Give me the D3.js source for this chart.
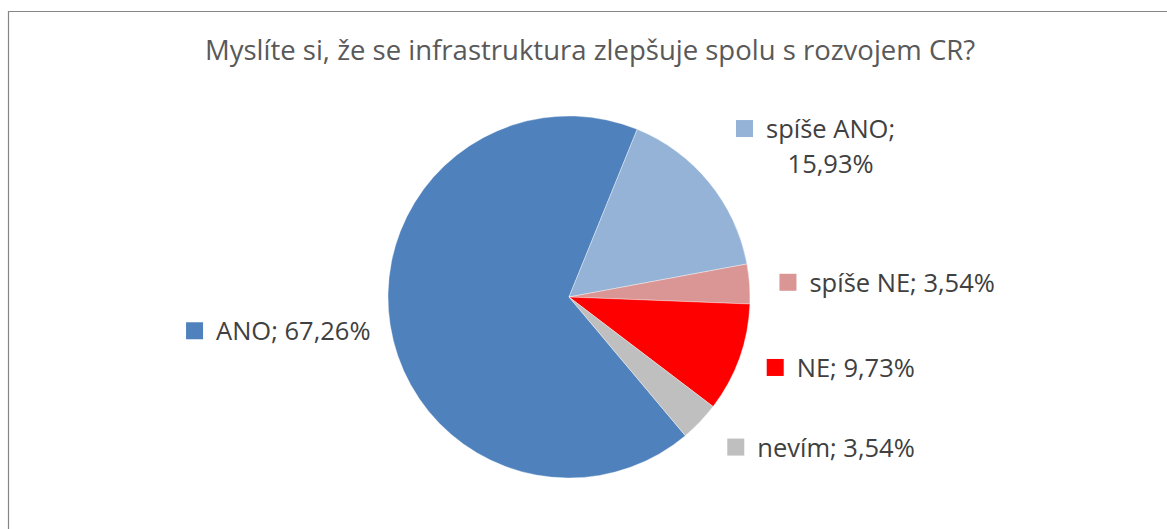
<!DOCTYPE html>
<html>
<head>
<meta charset="utf-8">
<script src="https://cdn.jsdelivr.net/npm/d3@7"></script>
<style>
  html, body { margin: 0; padding: 0; background: #fff; }
  svg { display: block; }
</style>
</head>
<body>
<script>
const categories = ["ANO", "spíše ANO", "spíše NE", "NE", "nevím"];
const values = [67.26, 15.93, 3.54, 9.73, 3.54];
const colors = ["#4F81BD", "#95B3D7", "#D99694", "#FF0000", "#BFBFBF"];
const labelTexts = ["ANO; 67,26%", "spíše ANO;|15,93%", "spíše NE; 3,54%", "NE; 9,73%", "nevím; 3,54%"];
const title = "Myslíte si, že se infrastruktura zlepšuje spolu s rozvojem CR?";

// small manual nudges of the data labels, as in the original chart
const labelNudgeX = [8, 5, 2, 1, 7];
const labelNudgeY = [0, 0, 1, -3, 0];

const width = 1167;
const height = 529;
const cx = 569;
const cy = 297;
const radius = 181;
const labelGap = 28;
const fontFamily = "'Open Sans', 'Noto Sans', sans-serif";
const fontSize = 25.5;
const titleSize = 27.5;
const lineHeight = 35;
const swatch = 17;

const svg = d3.select("body")
  .append("svg")
  .attr("width", width)
  .attr("height", height);

svg.append("rect")
  .attr("width", width)
  .attr("height", height)
  .attr("fill", "white");

// frame (only top and left edges are visible in the crop)
svg.append("path")
  .attr("d", "M8.5," + height + "V11.5H" + width)
  .attr("fill", "none")
  .attr("stroke", "#868686")
  .attr("stroke-width", 1.2);

svg.append("text")
  .attr("x", 590)
  .attr("y", 60)
  .attr("text-anchor", "middle")
  .attr("fill", "#595959")
  .attr("style", "font-family:" + fontFamily + ";font-size:" + titleSize + "px")
  .text(title);

const data = categories.map(function (c, i) {
  return { name: c, value: values[i], color: colors[i], label: labelTexts[i] };
});

const startAngle = 140 * Math.PI / 180;
const pie = d3.pie()
  .value(function (d) { return d.value; })
  .sort(null)
  .startAngle(startAngle)
  .endAngle(startAngle + 2 * Math.PI);

const arc = d3.arc().innerRadius(0).outerRadius(radius);
const arcs = pie(data);

const g = svg.append("g")
  .attr("transform", "translate(" + cx + "," + cy + ")");

g.selectAll("path.slice")
  .data(arcs)
  .enter()
  .append("path")
  .attr("class", "slice")
  .attr("d", arc)
  .attr("fill", function (d) { return d.data.color; })
  .attr("stroke", "#ffffff")
  .attr("stroke-opacity", 0.6)
  .attr("stroke-width", 0.6);

// data labels, placed like Excel "best fit" outside end
arcs.forEach(function (a, k) {
  const mid = (a.startAngle + a.endAngle) / 2;
  const s = Math.sin(mid);
  const c = Math.cos(mid);
  const ax = (radius + labelGap) * s;
  const ay = -(radius + labelGap) * c;

  const lines = a.data.label.split("|");
  const lg = g.append("g");
  const textX = swatch + 13;

  lines.forEach(function (ln, i) {
    lg.append("text")
      .attr("class", "ln" + i)
      .attr("x", textX)
      .attr("y", i * lineHeight)
      .attr("fill", "#404040")
      .attr("text-anchor", i === 0 ? "start" : "middle")
      .attr("style", "font-family:" + fontFamily + ";font-size:" + fontSize + "px")
      .text(ln);
  });

  const w0 = lg.select("text.ln0").node().getComputedTextLength();
  lg.append("rect")
    .attr("x", 0)
    .attr("y", -swatch - 1)
    .attr("width", swatch)
    .attr("height", swatch)
    .attr("fill", a.data.color);
  const blockW = textX + w0;
  // wrapped lines are centred under the text part
  lg.selectAll("text").filter(function (d, i) { return i > 0; })
    .attr("x", textX + w0 / 2);

  const blockH = swatch + (lines.length - 1) * (lineHeight + 3);
  const left = (s >= 0 ? ax : ax - blockW) + labelNudgeX[k];
  const top = ay - blockH * (1 + c) / 2 + labelNudgeY[k];
  lg.attr("transform", "translate(" + left + "," + (top + swatch + 1) + ")");
});
</script>
</body>
</html>
